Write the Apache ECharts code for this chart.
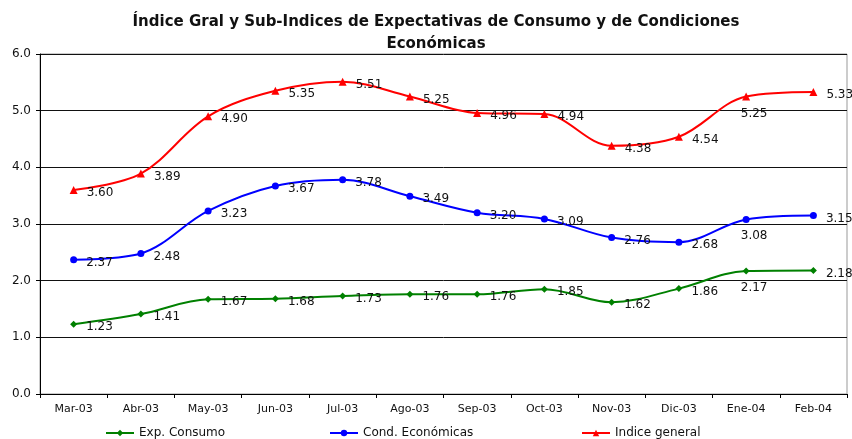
<!DOCTYPE html>
<html>
<head>
<meta charset="UTF-8">
<script src="https://cdn.jsdelivr.net/npm/echarts@6/dist/echarts.min.js"></script>
<style>
html, body { margin: 0; padding: 0; background: #fff; }
#chart { width: 852px; height: 439px; }
</style>
</head>
<body>
<div id="chart"></div>
<script>
const months = ['Mar-03', 'Abr-03', 'May-03', 'Jun-03', 'Jul-03', 'Ago-03', 'Sep-03', 'Oct-03', 'Nov-03', 'Dic-03', 'Ene-04', 'Feb-04']
const expConsumo = [1.23, 1.41, 1.67, 1.68, 1.73, 1.76, 1.76, 1.85, 1.62, 1.86, 2.17, 2.18]
const condEconomicas = [2.37, 2.48, 3.23, 3.67, 3.78, 3.49, 3.20, 3.09, 2.76, 2.68, 3.08, 3.15]
const indiceGeneral = [3.60, 3.89, 4.90, 5.35, 5.51, 5.25, 4.96, 4.94, 4.38, 4.54, 5.25, 5.33]
const yTicks = [0, 1, 2, 3, 4, 5, 6]

const font = 'DejaVu Sans, sans-serif'

// punto de Ene-04: etiqueta debajo
function pts(arr) {
	return arr.map(function (v, i) {
		if (i === 10) return { value: v, label: { position: 'bottom', offset: [8, 2] } }
		return v
	})
}
function serie(name, data, color, symbol, size) {
	return {
		name: name,
		type: 'line',
		smooth: 0.35,
		data: pts(data),
		symbol: symbol,
		symbolSize: size,
		itemStyle: { color: color },
		lineStyle: { color: color, width: 2 },
		label: {
			show: true,
			position: 'right',
			offset: [4, 3],
			color: '#111',
			fontFamily: font,
			fontSize: 12,
			formatter: function (p) { return p.value.toFixed(2) }
		}
	}
}
function leyenda(name, left) {
	return {
		top: 422,
		left: left,
		itemWidth: 28,
		itemHeight: 8,
		itemGap: 2,
		textStyle: { fontFamily: font, fontSize: 12, color: '#111' },
		data: [name]
	}
}

const chart = echarts.init(document.getElementById('chart'))
chart.setOption({
	animation: false,
	backgroundColor: '#fff',
	title: {
		text: 'Índice Gral y Sub-Indices de Expectativas de Consumo y de Condiciones\nEconómicas',
		left: 431,
		textAlign: 'center',
		top: 6,
		textStyle: { fontFamily: font, fontSize: 15, fontWeight: 'bold', color: '#111', lineHeight: 22 }
	},
	legend: [
		leyenda('Exp. Consumo', 100),
		leyenda('Cond. Económicas', 324),
		leyenda('Indice general', 576)
	],
	grid: { left: 40, right: 5, top: 54, bottom: 45, show: true, borderColor: '#999', borderWidth: 1 },
	xAxis: {
		type: 'category',
		data: months,
		boundaryGap: true,
		axisLine: { lineStyle: { color: '#000', width: 1 } },
		axisTick: { show: true, length: 4, lineStyle: { color: '#000' } },
		axisLabel: { fontFamily: font, fontSize: 11, color: '#111', margin: 10 }
	},
	yAxis: {
		type: 'value',
		min: yTicks[0],
		max: yTicks[yTicks.length - 1],
		interval: 1,
		axisLine: { show: true, lineStyle: { color: '#000' } },
		axisTick: { show: true, length: 4, lineStyle: { color: '#000' } },
		axisLabel: { fontFamily: font, fontSize: 12, color: '#111', margin: 9, formatter: function (v) { return v.toFixed(1) } },
		splitLine: { lineStyle: { color: '#111', width: 1 } }
	},
	series: [
		serie('Exp. Consumo', expConsumo, '#008000', 'diamond', 7),
		serie('Cond. Económicas', condEconomicas, '#0000ff', 'circle', 7),
		serie('Indice general', indiceGeneral, '#ff0000', 'triangle', 8)
	]
})
</script>
</body>
</html>
